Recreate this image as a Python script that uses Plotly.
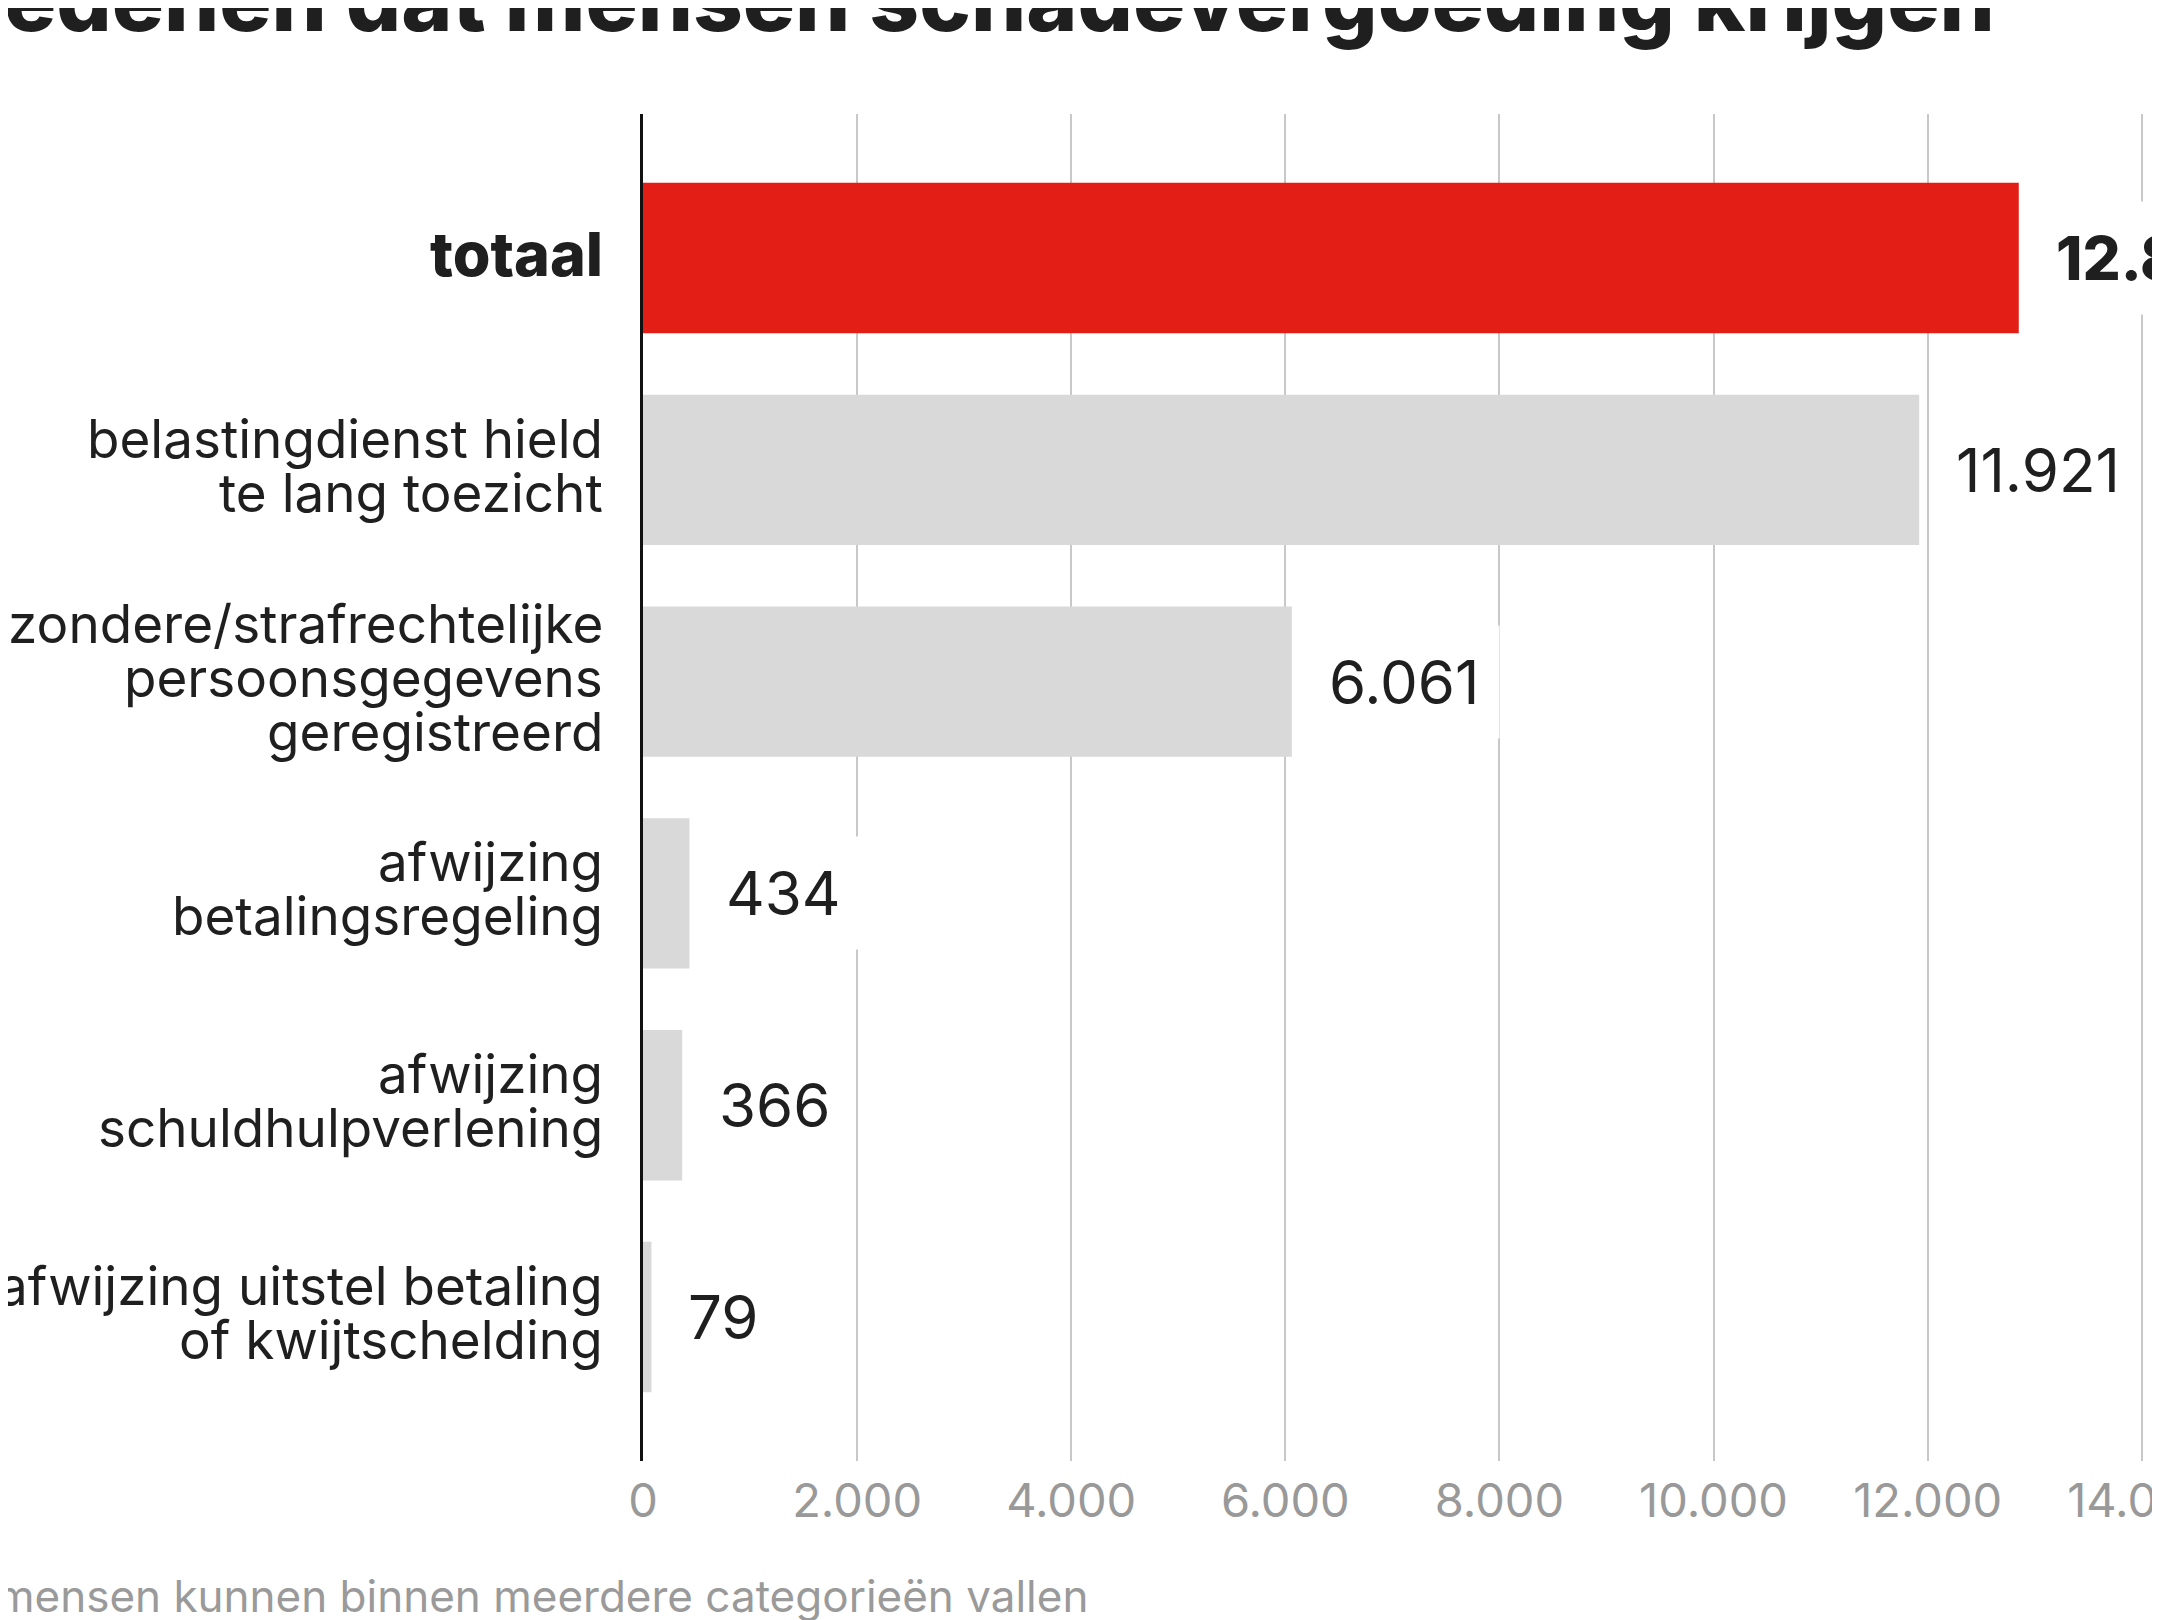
import plotly.graph_objects as go

categories = [
    "totaal",
    "belastingdienst hield<br>te lang toezicht",
    "bijzondere/strafrechtelijke<br>persoonsgegevens<br>geregistreerd",
    "afwijzing<br>betalingsregeling",
    "afwijzing<br>schuldhulpverlening",
    "afwijzing uitstel betaling<br>of kwijtschelding",
]
values = [12851, 11921, 6061, 434, 366, 79]
bar_colors = ["#e31e16", "#d9d9d9", "#d9d9d9", "#d9d9d9", "#d9d9d9", "#d9d9d9"]
tick_values = [0, 2000, 4000, 6000, 8000, 10000, 12000, 14000]
tick_labels = ["0", "2.000", "4.000", "6.000", "8.000", "10.000", "12.000", "14.000"]
title_text = "edenen dat mensen schadevergoeding krijgen"
footer_text = "mensen kunnen binnen meerdere categorieën vallen"

W, H = 2160, 1620
L, R, T, B = 635, 0, 106, 167
PW, PH = W - L - R, H - T - B
FONT = "Inter, Lato, sans-serif"
LINE_PITCH = 54

def px_x(p):
    return (p - L) / PW

def px_y(p):
    return (H - B - p) / PH

def fmt(v):
    return f"{v:,}".replace(",", ".")

fig = go.Figure()
fig.add_trace(go.Bar(
    y=list(range(len(categories))),
    x=values,
    orientation="h",
    marker=dict(color=bar_colors, line=dict(width=0)),
    width=0.71,
    hoverinfo="skip",
))

# category labels, one text line each so the line pitch matches
for i, cat in enumerate(categories):
    lines = cat.split("<br>")
    n = len(lines)
    for j, line in enumerate(lines):
        offset = ((n - 1) / 2 - j) * LINE_PITCH + 4
        if i == 0:
            f = dict(family=FONT, size=61, color="#1f1f1f", weight=800)
        else:
            f = dict(family=FONT, size=53, color="#1f1f1f")
        fig.add_annotation(
            x=0, y=i, xref="paper", yref="y", text=line, showarrow=False,
            xanchor="right", yanchor="middle", xshift=-38, yshift=offset,
            font=f,
        )

# value labels
for i, v in enumerate(values):
    f = dict(family=FONT, size=60, color="#1f1f1f")
    if i == 0:
        f["weight"] = 800
    fig.add_annotation(
        x=v, y=i, xref="x", yref="y", text=fmt(v), showarrow=False,
        xanchor="left", yanchor="middle", xshift=16,
        font=f, bgcolor="white", borderpad=20,
    )

fig.add_annotation(
    x=px_x(-6), y=px_y(-8), xref="paper", yref="paper", text=title_text,
    showarrow=False, xanchor="left", yanchor="middle",
    font=dict(family=FONT, size=87, color="#1f1f1f", weight=800),
)
fig.add_annotation(
    x=px_x(-14), y=px_y(1588), xref="paper", yref="paper", text=footer_text,
    showarrow=False, xanchor="left", yanchor="middle",
    font=dict(family=FONT, size=44, color="#9a9a9a"),
)

fig.update_layout(
    width=W, height=H,
    margin=dict(l=L, r=R, t=T, b=B, autoexpand=False),
    paper_bgcolor="white", plot_bgcolor="white",
    showlegend=False,
    separators=",.",
    xaxis=dict(
        range=[0, 14245], tickvals=tick_values, ticktext=tick_labels,
        showgrid=True, gridcolor="#c8c8c8", gridwidth=1.5,
        zeroline=False, showline=False, ticks="",
        tickfont=dict(family=FONT, size=47, color="#999999"),
        ticklabelstandoff=8, ticklabeloverflow="allow",
        automargin=False, fixedrange=True,
    ),
    yaxis=dict(
        range=[5.68, -0.68], tickvals=list(range(len(categories))),
        showticklabels=False,
        showgrid=False, zeroline=False, showline=True, linecolor="#111111", linewidth=3,
        ticks="", automargin=False, fixedrange=True,
    ),
)

fig.write_html("out.html")
